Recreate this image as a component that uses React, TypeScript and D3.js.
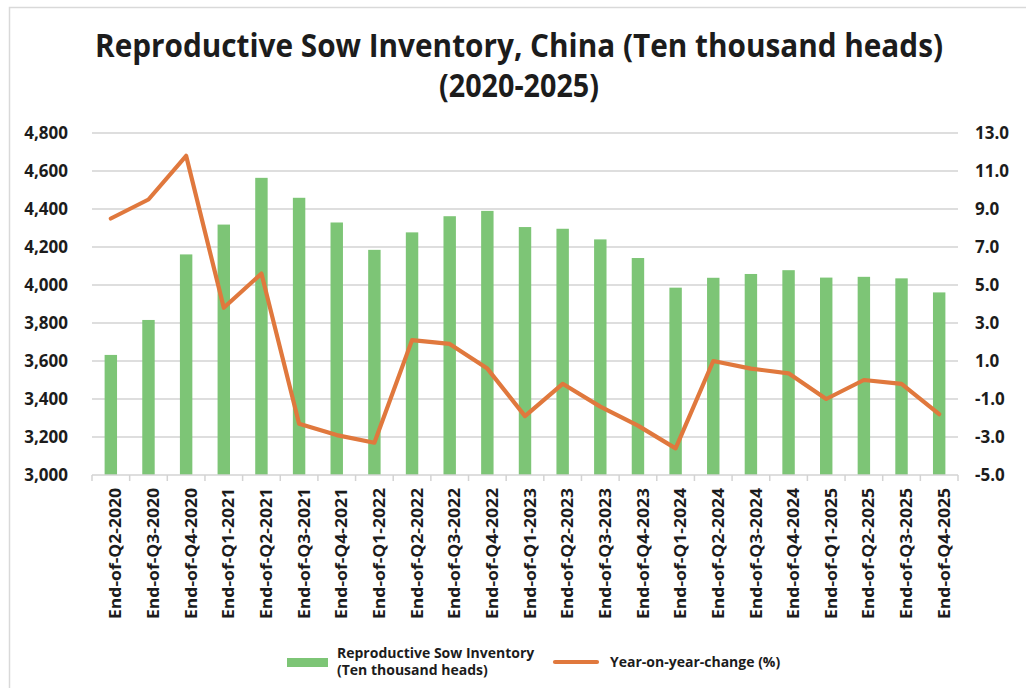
import React, { useEffect, useRef } from "react";
import * as d3 from "d3";

const categories = [
  "End-of-Q2-2020", "End-of-Q3-2020", "End-of-Q4-2020",
  "End-of-Q1-2021", "End-of-Q2-2021", "End-of-Q3-2021", "End-of-Q4-2021",
  "End-of-Q1-2022", "End-of-Q2-2022", "End-of-Q3-2022", "End-of-Q4-2022",
  "End-of-Q1-2023", "End-of-Q2-2023", "End-of-Q3-2023", "End-of-Q4-2023",
  "End-of-Q1-2024", "End-of-Q2-2024", "End-of-Q3-2024", "End-of-Q4-2024",
  "End-of-Q1-2025", "End-of-Q2-2025", "End-of-Q3-2025", "End-of-Q4-2025",
];

// Reproductive sow inventory, ten thousand heads
const inventory = [
  3632, 3816, 4161,
  4318, 4564, 4459, 4329,
  4185, 4277, 4362, 4390,
  4305, 4296, 4240, 4142,
  3986, 4038, 4058, 4078,
  4039, 4043, 4035, 3961,
];

// Year-on-year change, %
const yoyChange = [
  8.5, 9.5, 11.8,
  3.8, 5.6, -2.3, -2.9,
  -3.3, 2.1, 1.9, 0.6,
  -1.9, -0.2, -1.4, -2.4,
  -3.6, 1.0, 0.6, 0.35,
  -1.0, 0.0, -0.2, -1.8,
];

const leftTicks = [3000, 3200, 3400, 3600, 3800, 4000, 4200, 4400, 4600, 4800];
const rightTicks = [-5, -3, -1, 1, 3, 5, 7, 9, 11, 13];

const titleLines = ["Reproductive Sow Inventory, China (Ten thousand heads)", "(2020-2025)"];
const legendBarLabel = ["Reproductive Sow Inventory", "(Ten thousand heads)"];
const legendLineLabel = "Year-on-year-change (%)";

const W = 1026;
const H = 688;
const plot = { left: 92, right: 958, top: 133, bottom: 475 };
const GREEN = "#7dc576";
const ORANGE = "#e0783d";
const GRID = "#d3d3d3";
const TEXT = "#1c1c1c";
const FONT = "'Open Sans', 'DejaVu Sans', sans-serif";

// plain hyphen for negative numbers
const locale = d3.formatLocale({ decimal: ".", thousands: ",", grouping: [3], currency: ["", ""], minus: "-" });
const fmtThousands = locale.format(",");
const fmtPct = locale.format(".1f");

export default function App() {
  const ref = useRef<SVGSVGElement | null>(null);

  useEffect(() => {
    const svg = d3.select(ref.current);
    svg.selectAll("*").remove();

    const x = d3.scaleBand<string>().domain(categories).range([plot.left, plot.right]).paddingInner(0).paddingOuter(0);
    const yL = d3.scaleLinear().domain([3000, 4800]).range([plot.bottom, plot.top]);
    const yR = d3.scaleLinear().domain([-5, 13]).range([plot.bottom, plot.top]);

    // outer frame
    svg.append("rect")
      .attr("x", 9.5).attr("y", 7.5)
      .attr("width", W + 20).attr("height", H + 20)
      .attr("fill", "#fff").attr("stroke", "#d9d9d9").attr("stroke-width", 1.5);

    // title
    const title = svg.append("g").attr("font-family", FONT).attr("font-weight", 700).attr("fill", TEXT);
    title.append("text")
      .attr("x", 519).attr("y", 57)
      .attr("text-anchor", "middle")
      .attr("font-size", 32)
      .attr("textLength", 848).attr("lengthAdjust", "spacingAndGlyphs")
      .text(titleLines[0]);
    title.append("text")
      .attr("x", 519).attr("y", 97)
      .attr("text-anchor", "middle")
      .attr("font-size", 32)
      .attr("textLength", 160).attr("lengthAdjust", "spacingAndGlyphs")
      .text(titleLines[1]);

    // gridlines
    svg.append("g")
      .selectAll("line")
      .data(leftTicks.slice(1))
      .join("line")
      .attr("x1", plot.left).attr("x2", plot.right)
      .attr("y1", (d) => yL(d)).attr("y2", (d) => yL(d))
      .attr("stroke", GRID).attr("stroke-width", 1.5);

    // bars
    const bw = x.bandwidth() * 0.33;
    svg.append("g")
      .selectAll("rect")
      .data(inventory)
      .join("rect")
      .attr("x", (_, i) => x(categories[i])! + x.bandwidth() / 2 - bw / 2)
      .attr("width", bw)
      .attr("y", (d) => yL(d))
      .attr("height", (d) => plot.bottom - yL(d))
      .attr("fill", GREEN);

    // category axis
    const axis = svg.append("g");
    axis.append("line")
      .attr("x1", plot.left).attr("x2", plot.right)
      .attr("y1", plot.bottom).attr("y2", plot.bottom)
      .attr("stroke", GRID).attr("stroke-width", 1.5);
    const bounds = categories.map((c) => x(c)!).concat([plot.right]);
    axis.selectAll("line.tick")
      .data(bounds)
      .join("line")
      .attr("class", "tick")
      .attr("x1", (d) => d).attr("x2", (d) => d)
      .attr("y1", plot.bottom).attr("y2", plot.bottom + 6)
      .attr("stroke", GRID).attr("stroke-width", 1.5);

    axis.selectAll("text")
      .data(categories)
      .join("text")
      .attr("transform", (d) => `translate(${x(d)! + x.bandwidth() / 2 + 5},${plot.bottom + 13}) rotate(-90)`)
      .attr("text-anchor", "end")
      .attr("dy", "0.36em")
      .attr("font-family", FONT).attr("font-weight", 700).attr("font-size", 15.5)
      .attr("textLength", 131).attr("lengthAdjust", "spacingAndGlyphs")
      .attr("fill", TEXT)
      .text((d) => d);

    // YoY line
    const line = d3.line<number>()
      .x((_, i) => x(categories[i])! + x.bandwidth() / 2)
      .y((d) => yR(d));
    svg.append("path")
      .datum(yoyChange)
      .attr("d", line)
      .attr("fill", "none")
      .attr("stroke", ORANGE)
      .attr("stroke-width", 4.2)
      .attr("stroke-linejoin", "round")
      .attr("stroke-linecap", "round");

    // value axes labels
    svg.append("g")
      .selectAll("text")
      .data(leftTicks)
      .join("text")
      .attr("x", 68).attr("y", (d) => yL(d))
      .attr("dy", "0.36em")
      .attr("text-anchor", "end")
      .attr("font-family", FONT).attr("font-weight", 700).attr("font-size", 17)
      .attr("fill", TEXT)
      .text((d) => fmtThousands(d));

    svg.append("g")
      .selectAll("text")
      .data(rightTicks)
      .join("text")
      .attr("x", 975).attr("y", (d) => yR(d))
      .attr("dy", "0.36em")
      .attr("text-anchor", "start")
      .attr("font-family", FONT).attr("font-weight", 700).attr("font-size", 17)
      .attr("fill", TEXT)
      .text((d) => fmtPct(d));

    // legend
    const lg = svg.append("g").attr("font-family", FONT).attr("font-weight", 700).attr("font-size", 14).attr("fill", TEXT);
    lg.append("rect").attr("x", 287).attr("y", 658).attr("width", 41).attr("height", 9).attr("fill", GREEN);
    lg.append("text").attr("x", 337).attr("y", 658).text(legendBarLabel[0]);
    lg.append("text").attr("x", 337).attr("y", 675).text(legendBarLabel[1]);
    lg.append("line")
      .attr("x1", 555).attr("x2", 597).attr("y1", 662).attr("y2", 662)
      .attr("stroke", ORANGE).attr("stroke-width", 4.2).attr("stroke-linecap", "round");
    lg.append("text").attr("x", 610).attr("y", 667).text(legendLineLabel);
  }, []);

  return (
    <svg
      ref={ref}
      width={W}
      height={H}
      style={{ position: "absolute", left: 0, top: 0, display: "block", background: "#fff" }}
    />
  );
}
